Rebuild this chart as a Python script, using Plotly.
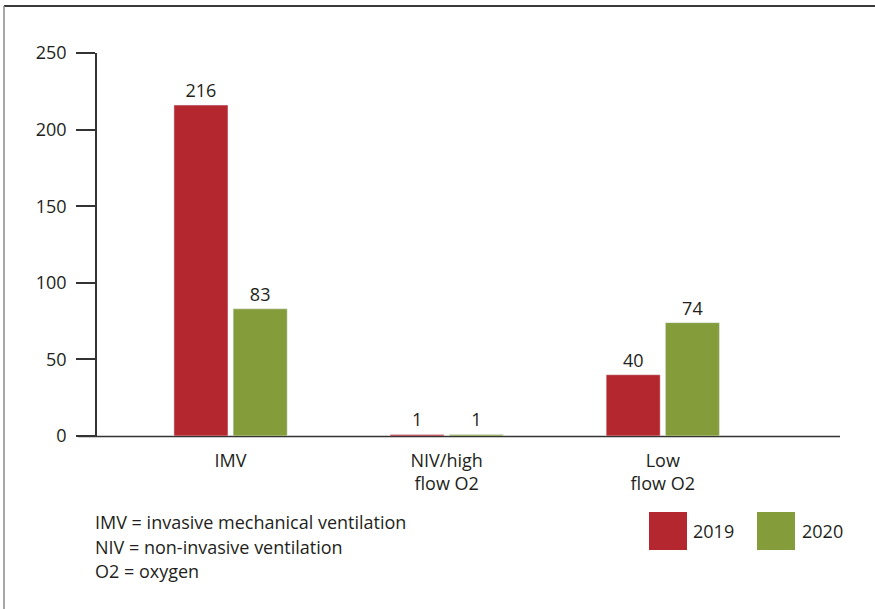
import plotly.graph_objects as go

categories = ["IMV", "NIV/high<br>flow O2", "Low<br>flow O2"]
series_names = ["2019", "2020"]
values_2019 = [216, 1, 40]
values_2020 = [83, 1, 74]
y_ticks = [0, 50, 100, 150, 200, 250]

RED = "#b5272f"
GREEN = "#849c3a"
TXT = "#231f20"
FONT = "Open Sans"
FS = 18

x_idx = list(range(len(categories)))

fig = go.Figure()
fig.add_trace(go.Bar(
    x=x_idx, y=values_2019, name=series_names[0], marker_color=RED,
    width=0.25, offset=-0.262, text=[str(v) for v in values_2019],
    textposition="outside", textfont=dict(size=FS, color=TXT, family=FONT),
    cliponaxis=False,
))
fig.add_trace(go.Bar(
    x=x_idx, y=values_2020, name=series_names[1], marker_color=GREEN,
    width=0.25, offset=0.012, text=[str(v) for v in values_2020],
    textposition="outside", textfont=dict(size=FS, color=TXT, family=FONT),
    cliponaxis=False,
))

W, H = 875, 609
L, R, T, B = 97, 35, 53, 173
pw, ph = W - L - R, H - T - B

def px(xp):
    return (xp - L) / pw

def py(yp):
    return (H - B - yp) / ph

shapes = [
    dict(type="line", xref="paper", yref="paper", x0=px(4), x1=px(875), y0=py(6), y1=py(6),
         line=dict(color="#3a3a3a", width=2), layer="above"),
    dict(type="line", xref="paper", yref="paper", x0=px(4), x1=px(4), y0=py(6), y1=py(609),
         line=dict(color="#8a8a8a", width=1.5)),
    dict(type="line", xref="paper", yref="paper", x0=px(78), x1=1, y0=py(436.5), y1=py(436.5),
         line=dict(color="#333333", width=1.5), layer="below"),
    dict(type="rect", xref="paper", yref="paper", x0=px(649), x1=px(687), y0=py(512), y1=py(550),
         fillcolor=RED, line=dict(width=0)),
    dict(type="rect", xref="paper", yref="paper", x0=px(757), x1=px(795), y0=py(512), y1=py(550),
         fillcolor=GREEN, line=dict(width=0)),
]

annotations = [
    dict(xref="paper", yref="paper", x=px(691), y=py(531), text=series_names[0], showarrow=False,
         xanchor="left", yanchor="middle", font=dict(size=FS, color=TXT, family=FONT)),
    dict(xref="paper", yref="paper", x=px(800), y=py(531), text=series_names[1], showarrow=False,
         xanchor="left", yanchor="middle", font=dict(size=FS, color=TXT, family=FONT)),
]
notes = ["IMV = invasive mechanical ventilation", "NIV = non-invasive ventilation", "O2 = oxygen"]
for i, t in enumerate(notes):
    annotations.append(dict(xref="paper", yref="paper", x=px(93), y=py(522 + 24.5 * i), text=t,
                            showarrow=False, xanchor="left", yanchor="middle",
                            font=dict(size=FS, color=TXT, family=FONT)))

fig.update_layout(
    width=W, height=H,
    margin=dict(l=L, r=R, t=T, b=B, pad=0),
    paper_bgcolor="white", plot_bgcolor="white",
    showlegend=False,
    font=dict(family=FONT, size=FS, color=TXT),
    xaxis=dict(
        tickmode="array", tickvals=x_idx, ticktext=categories,
        range=[-0.618, 2.82], showgrid=False, zeroline=False, showline=False,
        ticks="", ticklabelstandoff=12, tickfont=dict(size=FS, color=TXT, family=FONT),
        fixedrange=True,
    ),
    yaxis=dict(
        range=[0, 250], tickmode="array", tickvals=y_ticks,
        showgrid=False, zeroline=False, showline=True, linecolor="#333333", linewidth=1.5,
        ticks="outside", ticklen=19, tickwidth=1.5, tickcolor="#333333",
        ticklabelstandoff=6, tickfont=dict(size=FS, color=TXT, family=FONT),
        fixedrange=True,
    ),
    shapes=shapes,
    annotations=annotations,
)

fig.write_html("out.html", config={"displayModeBar": False},
               post_script="document.body.style.margin='0';")
